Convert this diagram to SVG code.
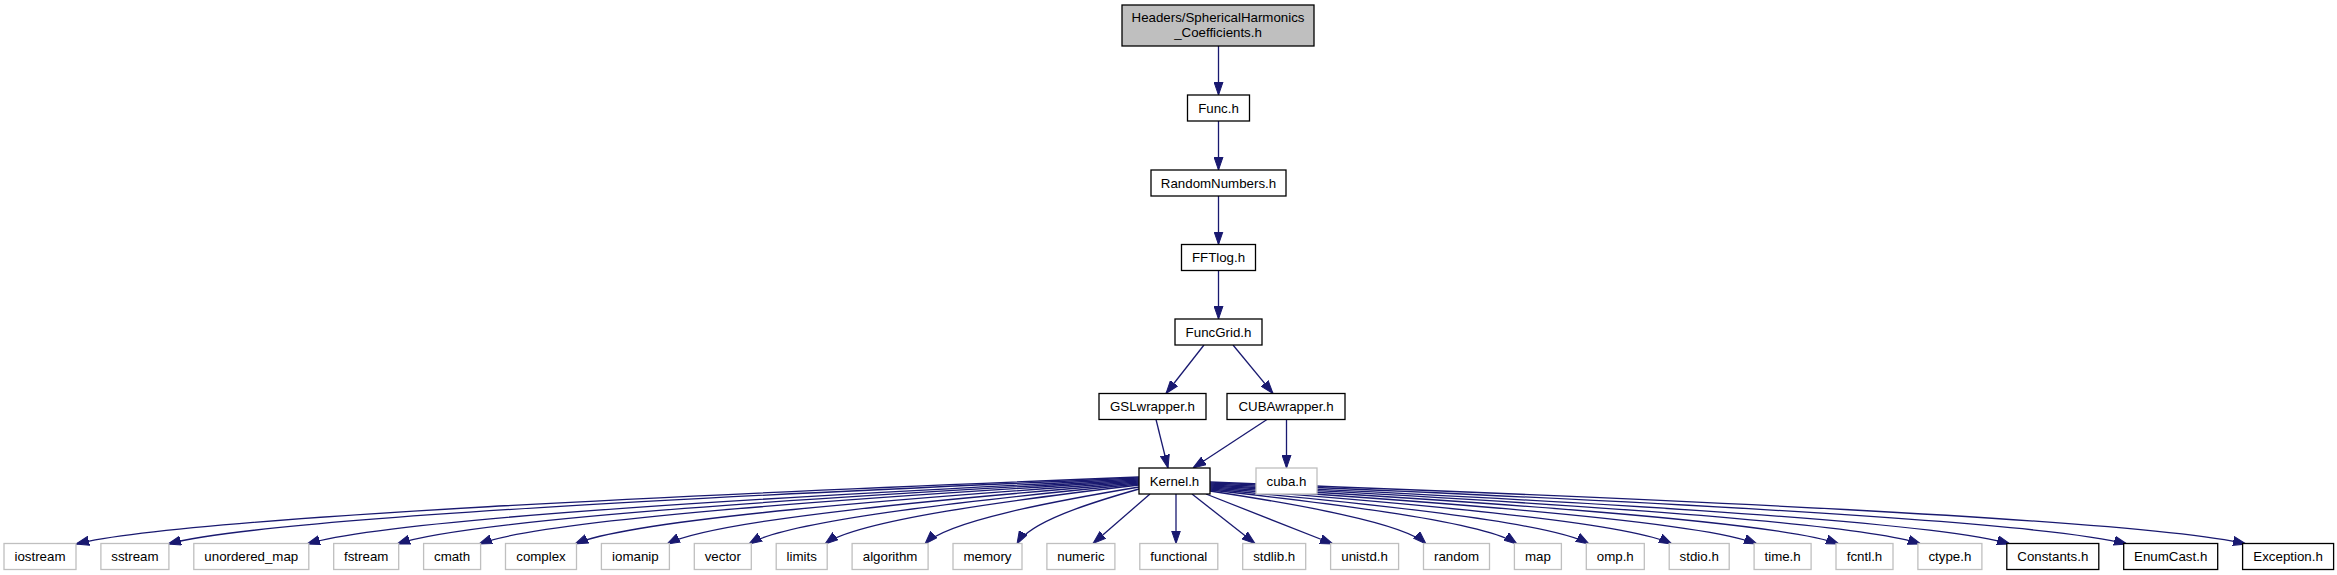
<svg xmlns="http://www.w3.org/2000/svg" width="2337" height="575" viewBox="0 0 2337 575">
<style>
.n rect{fill:#fff;stroke:#000;stroke-width:1.3}
.n.g rect{stroke:#bfbfbf}
.n.root rect{fill:#bfbfbf}
.n text{font-family:"Liberation Sans",Arial,Helvetica,sans-serif;font-size:13.3px;fill:#000;text-anchor:middle}
#edges path{fill:none;stroke:#191970;stroke-width:1.3;marker-end:url(#ah)}
</style>
<defs>
<marker id="ah" markerUnits="userSpaceOnUse" viewBox="0 0 13 10" markerWidth="13" markerHeight="10" refX="13" refY="5" orient="auto">
<path d="M0,0.5 L13,5 L0,9.5 z" fill="#191970" stroke="#191970" stroke-width="1"/>
</marker>
</defs>
<rect width="2337" height="575" fill="#fff"/>
<g id="edges">
<path d="M1218.5,46 L1218.5,95"/>
<path d="M1218.5,121 L1218.5,170"/>
<path d="M1218.5,196 L1218.5,244.5"/>
<path d="M1218.5,270.5 L1218.5,319"/>
<path d="M1204,345 L1166,393.5"/>
<path d="M1233,345 L1273,393.5"/>
<path d="M1156,419.5 L1168,468"/>
<path d="M1267,419.5 L1193,468"/>
<path d="M1286.5,419.5 L1286.5,468"/>
<path d="M1139,477 C713.8,493.75 182.3,517.2 76,544"/>
<path d="M1139,478 C750.6,494.5 265.1,517.6 168,544"/>
<path d="M1139,479 C806.2,495.25 390.2,518 307,544"/>
<path d="M1139,480 C842.2,496 471.2,518.4 397,544"/>
<path d="M1139,481 C875,496.75 545,518.8 479,544"/>
<path d="M1139,482 C913.4,497.5 631.4,519.2 575,544"/>
<path d="M1139,483 C950.2,498.25 714.2,519.6 667,544"/>
<path d="M1139,484 C983,499 788,520 749,544"/>
<path d="M1139,485 C1013.4,499.75 856.4,520.4 825,544"/>
<path d="M1139,487 C1053.4,501.25 946.4,521.2 925,544"/>
<path d="M1139,489 C1090.2,502.75 1029.2,522 1017,544"/>
<path d="M1150,494 L1093,543.5"/>
<path d="M1176,494 L1176,543.5"/>
<path d="M1192,494 L1255,543.5"/>
<path d="M1206,494 L1333,544"/>
<path d="M1210,491 C1296.4,504.25 1404.4,522.8 1426,544"/>
<path d="M1210,490 C1332.8,503.5 1486.3,522.4 1517,544"/>
<path d="M1210,489 C1361.6,502.75 1551.1,522 1589,544"/>
<path d="M1210,488 C1394.8,502 1625.8,521.6 1672,544"/>
<path d="M1210,487 C1428.8,501.25 1702.3,521.2 1757,544"/>
<path d="M1210,486 C1461.6,500.5 1776.1,520.8 1839,544"/>
<path d="M1210,485 C1494.4,499.75 1849.9,520.4 1921,544"/>
<path d="M1210,484 C1530,499 1930,520 2010,544"/>
<path d="M1210,483 C1576.8,498.25 2035.3,519.6 2127,544"/>
<path d="M1210,482 C1624.4,497.5 2142.4,519.2 2246,544"/>
</g>
<g id="n_root" class="n root"><rect x="1122" y="5" width="192" height="41"/><text x="1218" y="22">Headers/SphericalHarmonics</text><text x="1218" y="36.5">_Coefficients.h</text></g>
<g id="n_func" class="n"><rect x="1187.5" y="95" width="62" height="26"/><text x="1218.5" y="112.5">Func.h</text></g>
<g id="n_random" class="n"><rect x="1151" y="170" width="135" height="26"/><text x="1218.5" y="187.5">RandomNumbers.h</text></g>
<g id="n_fftlog" class="n"><rect x="1181.5" y="244.5" width="74" height="26"/><text x="1218.5" y="262">FFTlog.h</text></g>
<g id="n_funcgrid" class="n"><rect x="1175" y="319" width="87" height="26"/><text x="1218.5" y="336.5">FuncGrid.h</text></g>
<g id="n_gsl" class="n"><rect x="1099" y="393.5" width="107" height="26"/><text x="1152.5" y="411">GSLwrapper.h</text></g>
<g id="n_cubaw" class="n"><rect x="1227" y="393.5" width="118" height="26"/><text x="1286" y="411">CUBAwrapper.h</text></g>
<g id="n_kernel" class="n"><rect x="1139" y="468" width="71" height="26"/><text x="1174.5" y="485.5">Kernel.h</text></g>
<g id="n_cuba" class="n g"><rect x="1256" y="468" width="61" height="26"/><text x="1286.5" y="485.5">cuba.h</text></g>
<g id="n_iostream" class="n g"><rect x="4" y="543.5" width="72" height="26"/><text x="40" y="561">iostream</text></g>
<g id="n_sstream" class="n g"><rect x="100.9" y="543.5" width="68" height="26"/><text x="134.9" y="561">sstream</text></g>
<g id="n_umap" class="n g"><rect x="193.8" y="543.5" width="115" height="26"/><text x="251.3" y="561">unordered_map</text></g>
<g id="n_fstream" class="n g"><rect x="333.7" y="543.5" width="65" height="26"/><text x="366.2" y="561">fstream</text></g>
<g id="n_cmath" class="n g"><rect x="423.6" y="543.5" width="57" height="26"/><text x="452.1" y="561">cmath</text></g>
<g id="n_complex" class="n g"><rect x="505.5" y="543.5" width="71" height="26"/><text x="541" y="561">complex</text></g>
<g id="n_iomanip" class="n g"><rect x="601.4" y="543.5" width="68" height="26"/><text x="635.4" y="561">iomanip</text></g>
<g id="n_vector" class="n g"><rect x="694.3" y="543.5" width="57" height="26"/><text x="722.8" y="561">vector</text></g>
<g id="n_limits" class="n g"><rect x="776.2" y="543.5" width="51" height="26"/><text x="801.7" y="561">limits</text></g>
<g id="n_algorithm" class="n g"><rect x="852.1" y="543.5" width="76" height="26"/><text x="890.1" y="561">algorithm</text></g>
<g id="n_memory" class="n g"><rect x="953" y="543.5" width="69" height="26"/><text x="987.5" y="561">memory</text></g>
<g id="n_numeric" class="n g"><rect x="1046.9" y="543.5" width="68" height="26"/><text x="1080.9" y="561">numeric</text></g>
<g id="n_functional" class="n g"><rect x="1139.8" y="543.5" width="78" height="26"/><text x="1178.8" y="561">functional</text></g>
<g id="n_stdlib" class="n g"><rect x="1242.7" y="543.5" width="63" height="26"/><text x="1274.2" y="561">stdlib.h</text></g>
<g id="n_unistd" class="n g"><rect x="1330.6" y="543.5" width="68" height="26"/><text x="1364.6" y="561">unistd.h</text></g>
<g id="n_random2" class="n g"><rect x="1423.5" y="543.5" width="66" height="26"/><text x="1456.5" y="561">random</text></g>
<g id="n_map" class="n g"><rect x="1514.4" y="543.5" width="47" height="26"/><text x="1537.9" y="561">map</text></g>
<g id="n_omp" class="n g"><rect x="1586.3" y="543.5" width="58" height="26"/><text x="1615.3" y="561">omp.h</text></g>
<g id="n_stdio" class="n g"><rect x="1669.2" y="543.5" width="60" height="26"/><text x="1699.2" y="561">stdio.h</text></g>
<g id="n_time" class="n g"><rect x="1754.1" y="543.5" width="57" height="26"/><text x="1782.6" y="561">time.h</text></g>
<g id="n_fcntl" class="n g"><rect x="1836" y="543.5" width="57" height="26"/><text x="1864.5" y="561">fcntl.h</text></g>
<g id="n_ctype" class="n g"><rect x="1917.9" y="543.5" width="64" height="26"/><text x="1949.9" y="561">ctype.h</text></g>
<g id="n_constants" class="n"><rect x="2006.8" y="543.5" width="92" height="26"/><text x="2052.8" y="561">Constants.h</text></g>
<g id="n_enumcast" class="n"><rect x="2123.7" y="543.5" width="94" height="26"/><text x="2170.7" y="561">EnumCast.h</text></g>
<g id="n_exception" class="n"><rect x="2242.6" y="543.5" width="91" height="26"/><text x="2288.1" y="561">Exception.h</text></g>
</svg>
